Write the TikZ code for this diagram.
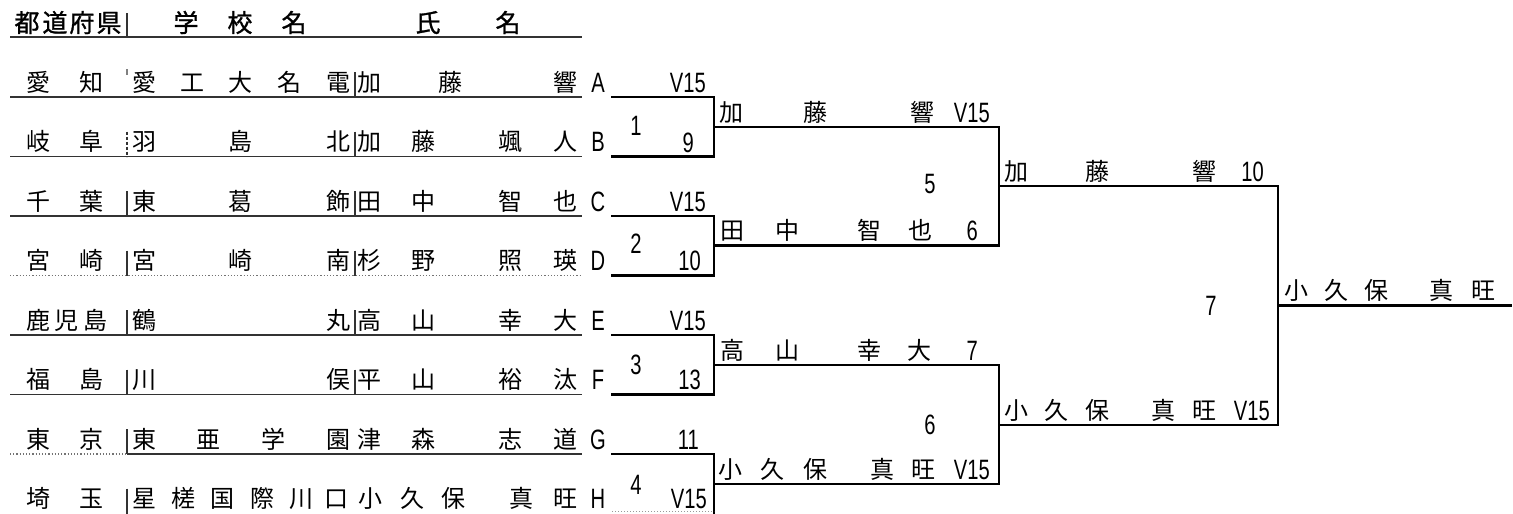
\documentclass[tikz,border=0pt]{standalone}
\usepackage{fontspec}
\newfontfamily\jpf{Noto Sans CJK JP}
\newfontfamily\jpbf[FakeBold=1.2]{Noto Sans CJK JP}
\newfontfamily\numf[FakeStretch=0.72]{Liberation Sans}
\newcounter{tn}
\newcommand\jtx[3]{\stepcounter{tn}\node[jt] (t\arabic{tn}) at (#1,#2) {#3};}
\newcommand\jhx[3]{\stepcounter{tn}\node[jh] (t\arabic{tn}) at (#1,#2) {#3};}
\newcommand\nrx[3]{\stepcounter{tn}\node[nt,anchor=base east] (t\arabic{tn}) at (#1,#2) {#3};}
\newcommand\ncx[3]{\stepcounter{tn}\node[nt] (t\arabic{tn}) at (#1,#2) {#3};}
\tikzset{
  jt/.style={font=\jpf\fontsize{24}{24}\selectfont, inner sep=0pt, anchor=base},
  jh/.style={font=\jpbf\fontsize{25}{25}\selectfont, inner sep=0pt, anchor=base},
  nt/.style={font=\numf\fontsize{28}{28}\selectfont, inner sep=0pt, anchor=base},
  tline/.style={line width=1.2pt, draw=black!80},
  sep/.style={line width=1.1pt, draw=black!80},
  bline/.style={line width=2.8pt, draw=black, line cap=rect},
}
\begin{document}
\begin{tikzpicture}[x=1pt,y=-1pt]
\useasboundingbox (0,0) rectangle (1513,514);
\fill[white] (0,0) rectangle (1513,514);

% ---------- header ----------
\jhx{27}{32}{都}\jhx{55}{32}{道}\jhx{82}{32}{府}\jhx{109}{32}{県}
\jhx{186}{32}{学}\jhx{240}{32}{校}\jhx{294}{32}{名}
\jhx{428}{32}{氏}\jhx{508}{32}{名}
\coordinate (h0) at (10,37); \coordinate (h1) at (582,37);
\draw[tline] (h0) -- (h1);
\coordinate (hs0) at (127,13); \coordinate (hs1) at (127,37);
\draw[sep] (hs0) -- (hs1);

% ---------- row lines of the table ----------
\foreach \n/\y in {A/97,B/156.5,C/216,D/275.5,E/335,F/394.5,G/454,H/513.5}{
  \coordinate (L\n) at (10,\y);
  \coordinate (R\n) at (582,\y);
  \coordinate (P\n) at (127,\y);
  \coordinate (Q\n) at (355,\y);
  \coordinate (Pt\n) at (127,\y-25);
  \coordinate (Qt\n) at (355,\y-25);
}
\draw[tline] (LA) -- (RA);
\draw[tline] (LB) -- (RB);
\draw[tline] (LC) -- (RC);
\draw[tline, dotted, draw=black!55] (LD) -- (RD);
\draw[tline] (LE) -- (RE);
\draw[tline] (LF) -- (RF);
\draw[tline, dotted, draw=black!55] (LG) -- (PG);
\draw[tline] (PG) -- (RG);

% separators
\coordinate (PAt) at (127,69); \coordinate (PAb) at (127,75);
\draw[sep, draw=black!50] (PAt) -- (PAb);
\draw[sep, dashed, dash pattern=on 3pt off 2pt] (PtB) -- (PB);
\foreach \n in {C,D,E,F,G,H}{\draw[sep] (Pt\n) -- (P\n);}
\foreach \n in {A,B,C,D,E,F}{\draw[sep] (Qt\n) -- (Q\n);}

% ---------- table text ----------
% A
\jtx{39}{91}{愛}\jtx{91}{91}{知}
\jtx{144}{91}{愛}\jtx{192}{91}{工}\jtx{240}{91}{大}\jtx{289}{91}{名}\jtx{338}{91}{電}
\jtx{369}{91}{加}\jtx{450}{91}{藤}\jtx{565}{91}{響}
% B
\jtx{39}{150.5}{岐}\jtx{91}{150.5}{阜}
\jtx{144}{150.5}{羽}\jtx{240}{150.5}{島}\jtx{338}{150.5}{北}
\jtx{369}{150.5}{加}\jtx{423}{150.5}{藤}\jtx{510}{150.5}{颯}\jtx{565}{150.5}{人}
% C
\jtx{39}{210}{千}\jtx{91}{210}{葉}
\jtx{144}{210}{東}\jtx{240}{210}{葛}\jtx{338}{210}{飾}
\jtx{369}{210}{田}\jtx{423}{210}{中}\jtx{510}{210}{智}\jtx{565}{210}{也}
% D
\jtx{39}{269.5}{宮}\jtx{91}{269.5}{崎}
\jtx{144}{269.5}{宮}\jtx{240}{269.5}{崎}\jtx{338}{269.5}{南}
\jtx{369}{269.5}{杉}\jtx{423}{269.5}{野}\jtx{510}{269.5}{照}\jtx{565}{269.5}{瑛}
% E
\jtx{39}{329}{鹿}\jtx{66}{329}{児}\jtx{95}{329}{島}
\jtx{144}{329}{鶴}\jtx{338}{329}{丸}
\jtx{369}{329}{高}\jtx{423}{329}{山}\jtx{510}{329}{幸}\jtx{565}{329}{大}
% F
\jtx{39}{388.5}{福}\jtx{91}{388.5}{島}
\jtx{144}{388.5}{川}\jtx{338}{388.5}{俣}
\jtx{369}{388.5}{平}\jtx{423}{388.5}{山}\jtx{510}{388.5}{裕}\jtx{565}{388.5}{汰}
% G
\jtx{39}{448}{東}\jtx{91}{448}{京}
\jtx{144}{448}{東}\jtx{208}{448}{亜}\jtx{273}{448}{学}\jtx{338}{448}{園}
\jtx{369}{448}{津}\jtx{423}{448}{森}\jtx{510}{448}{志}\jtx{565}{448}{道}
% H
\jtx{39}{507.5}{埼}\jtx{91}{507.5}{玉}
\jtx{144}{507.5}{星}\jtx{183}{507.5}{槎}\jtx{222}{507.5}{国}\jtx{262}{507.5}{際}\jtx{301}{507.5}{川}\jtx{336}{507.5}{口}
\jtx{370}{507.5}{小}\jtx{412}{507.5}{久}\jtx{453}{507.5}{保}\jtx{521}{507.5}{真}\jtx{565}{507.5}{旺}

% letters
\ncx{598}{92}{A}\ncx{598}{151.5}{B}\ncx{598}{211}{C}\ncx{598}{270.5}{D}
\ncx{598}{330}{E}\ncx{598}{389.5}{F}\ncx{598}{449}{G}\ncx{598}{508.5}{H}

% ---------- bracket coordinates ----------
\foreach \n/\y in {A/97,B/156.5,C/216,D/275.5,E/335,F/394.5,G/454}{
  \coordinate (b\n) at (612,\y);
  \coordinate (v\n) at (714,\y);
}
\coordinate (bH) at (612,511); \coordinate (vH) at (714,511);
\coordinate (vHx) at (714,516);
% round 1
\draw[bline] (bA) -- (vA) -- (vB) -- (bB);
\draw[bline] (bC) -- (vC) -- (vD) -- (bD);
\draw[bline] (bE) -- (vE) -- (vF) -- (bF);
\draw[bline] (bG) -- (vG) -- (vHx);
\draw[line width=1pt, dotted, draw=black!40] (bH) -- (vH);
% round 2
\coordinate (m1) at (714,127);   \coordinate (n1) at (999,127);
\coordinate (m2) at (714,245.5); \coordinate (n2) at (999,245.5);
\coordinate (m3) at (714,365);   \coordinate (n3) at (999,365);
\coordinate (m4) at (714,484);   \coordinate (n4) at (999,484);
\draw[bline] (m1) -- (n1) -- (n2) -- (m2);
\draw[bline] (m3) -- (n3) -- (n4) -- (m4);
% round 3
\coordinate (p1) at (999,186);   \coordinate (q1) at (1278,186);
\coordinate (p2) at (999,425);   \coordinate (q2) at (1278,425);
\draw[bline] (p1) -- (q1) -- (q2) -- (p2);
% final
\coordinate (f0) at (1278,305.5); \coordinate (f1) at (1511,305.5);
\draw[bline] (f0) -- (f1);

% ---------- round 1 scores ----------
\nrx{706}{92}{V15}\ncx{636}{135}{1}\nrx{694}{152}{9}
\nrx{706}{211}{V15}\ncx{636}{253}{2}\nrx{701}{270.5}{10}
\nrx{706}{330}{V15}\ncx{636}{374}{3}\nrx{701}{389.5}{13}
\nrx{699}{449}{11}\ncx{636}{494}{4}\nrx{707}{508.5}{V15}

% ---------- round 2 ----------
\jtx{731}{121}{加}\jtx{815}{121}{藤}\jtx{922}{121}{響}\nrx{990}{122}{V15}
\ncx{930}{193}{5}
\jtx{732}{239.5}{田}\jtx{787}{239.5}{中}\jtx{869}{239.5}{智}\jtx{920}{239.5}{也}\nrx{978}{240.5}{6}
\jtx{732}{359}{高}\jtx{787}{359}{山}\jtx{869}{359}{幸}\jtx{919}{359}{大}\nrx{978}{360}{7}
\ncx{930}{434}{6}
\jtx{730}{478}{小}\jtx{772}{478}{久}\jtx{815}{478}{保}\jtx{882}{478}{真}\jtx{923}{478}{旺}\nrx{990}{479}{V15}

% ---------- round 3 ----------
\jtx{1016}{180}{加}\jtx{1097}{180}{藤}\jtx{1204}{180}{響}\nrx{1264}{181}{10}
\ncx{1211}{315}{7}
\jtx{1016}{419}{小}\jtx{1056}{419}{久}\jtx{1097}{419}{保}\jtx{1163}{419}{真}\jtx{1204}{419}{旺}\nrx{1270}{420}{V15}

% ---------- final ----------
\jtx{1296}{299.5}{小}\jtx{1336}{299.5}{久}\jtx{1376}{299.5}{保}\jtx{1441}{299.5}{真}\jtx{1483}{299.5}{旺}
\end{tikzpicture}
\end{document}
